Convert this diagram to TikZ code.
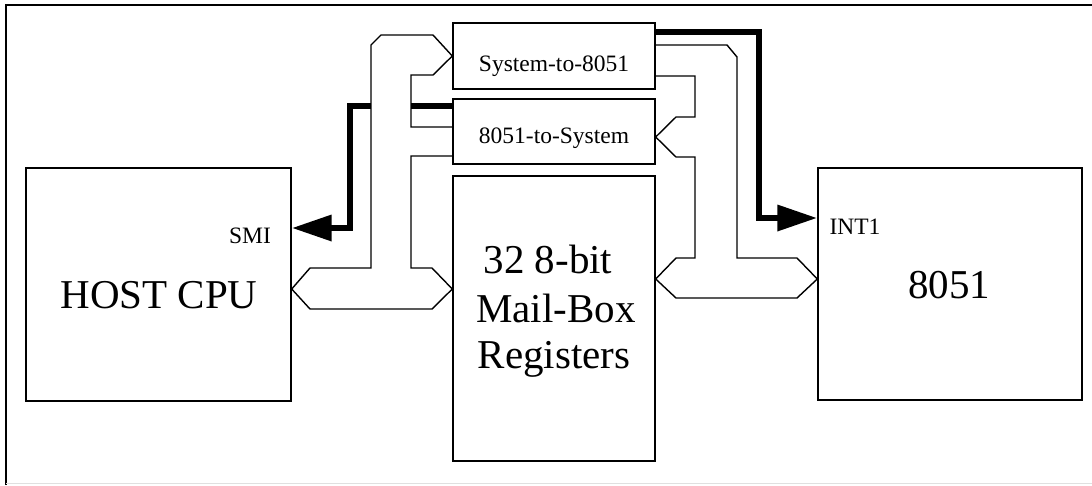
\documentclass[tikz,border=0pt]{standalone}
\usepackage{fontspec}
\setmainfont{Liberation Serif}
\usetikzlibrary{arrows.meta}
\tikzset{headed/.style={arrows={-Triangle[length=40pt, width=25pt]}}}
\begin{document}
\begin{tikzpicture}[x=1pt,y=-1pt,
  box/.style={draw, line width=1.4pt, rectangle, inner sep=0pt},
  bus/.style={draw, line width=1.4pt, line join=miter},
  sig/.style={draw, line width=6.5pt, line join=miter},
  big/.style={anchor=base, inner sep=0pt, font=\fontsize{41}{48}\selectfont},
  small/.style={anchor=base, inner sep=0pt, font=\fontsize{23.5}{28}\selectfont}]
\useasboundingbox (0,0) rectangle (1092,485);
% frame
\draw[line width=2pt] (6,485) -- (6,5) -- (1092,5);
\draw[black!12, line width=1pt] (6,483.5) -- (1092,483.5);
% boxes
\node[box, minimum width=265pt, minimum height=233pt] (host) at (158.5,284.5) {};
\node[box, minimum width=264pt, minimum height=232pt] (i8051) at (950,284) {};
\node[box, minimum width=202pt, minimum height=285pt] (mbox) at (554,318.5) {};
\node[box, minimum width=202pt, minimum height=66pt] (s2e) at (554,56) {};
\node[box, minimum width=202pt, minimum height=65pt] (e2s) at (554,131.5) {};
% texts
\node[small] (s2etxt) at (554,71) {System-to-8051};
\node[small] (e2stxt) at (554,143) {8051-to-System};
\node[big] (mb1) at (548,273) {32 8-bit};
\node[big] (mb2) at (556,322) {Mail-Box};
\node[big] (mb3) at (554,368) {Registers};
\node[big] (hosttxt) at (159,308) {HOST CPU};
\node[big] (ctxt) at (949,298) {8051};
\node[small] (smi) at (250,243) {SMI};
\node[small] (int1) at (855,234) {INT1};
% left bus
\draw[bus] (e2s.west |- 0,127) -- (411,127) -- (411,75) -- (433,75) -- (s2e.west |- 0,56)
  -- (433,35) -- (381,35) -- (371,45) -- (371,268) -- (310,268) -- (host.east |- 0,289)
  -- (310,309) -- (432,309) -- (mbox.west |- 0,289) -- (432,268) -- (411,268)
  -- (411,156) -- (e2s.west |- 0,156);
% right bus
\draw[bus] (s2e.east |- 0,45) -- (727,45) -- (737,57) -- (737,258) -- (797,258)
  -- (i8051.west |- 0,279) -- (797,298) -- (676,298) -- (mbox.east |- 0,279)
  -- (676,258) -- (695,258) -- (695,157) -- (676,157) -- (e2s.east |- 0,137)
  -- (676,117) -- (695,117) -- (695,76) -- (s2e.east |- 0,76);
% SMI signal
\draw[sig] (e2s.west |- 0,106) -- (411,106);
\draw[sig, headed] (371,106) -- (350,106) -- (350,228) -- (host.east |- 0,228);
% INT1 signal
\draw[sig, headed] (s2e.east |- 0,32) -- (759,32) -- (759,218) -- (i8051.west |- 0,218);
\end{tikzpicture}
\end{document}
